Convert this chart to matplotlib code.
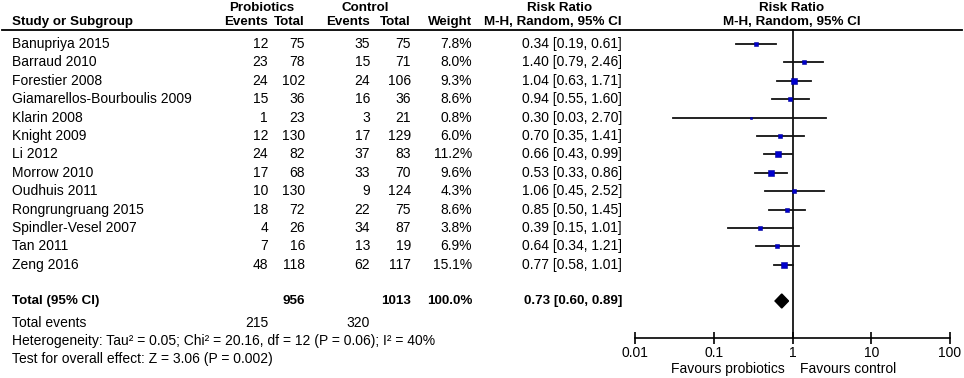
import numpy as np
import matplotlib
matplotlib.use("Agg")
import matplotlib.pyplot as plt

plt.rcParams['font.family'] = ['Liberation Sans', 'DejaVu Sans']

# data
studies = ["Banupriya 2015", "Barraud 2010", "Forestier 2008", "Giamarellos-Bourboulis 2009",
           "Klarin 2008", "Knight 2009", "Li 2012", "Morrow 2010", "Oudhuis 2011",
           "Rongrungruang 2015", "Spindler-Vesel 2007", "Tan 2011", "Zeng 2016"]
pro_events = [12, 23, 24, 15, 1, 12, 24, 17, 10, 18, 4, 7, 48]
pro_total = [75, 78, 102, 36, 23, 130, 82, 68, 130, 72, 26, 16, 118]
ctl_events = [35, 15, 24, 16, 3, 17, 37, 33, 9, 22, 34, 13, 62]
ctl_total = [75, 71, 106, 36, 21, 129, 83, 70, 124, 75, 87, 19, 117]
weight = [7.8, 8.0, 9.3, 8.6, 0.8, 6.0, 11.2, 9.6, 4.3, 8.6, 3.8, 6.9, 15.1]
rr = [0.34, 1.40, 1.04, 0.94, 0.30, 0.70, 0.66, 0.53, 1.06, 0.85, 0.39, 0.64, 0.77]
rr_lo = [0.19, 0.79, 0.63, 0.55, 0.03, 0.35, 0.43, 0.33, 0.45, 0.50, 0.15, 0.34, 0.58]
rr_hi = [0.61, 2.46, 1.71, 1.60, 2.70, 1.41, 0.99, 0.86, 2.52, 1.45, 1.01, 1.21, 1.01]

total_pro, total_ctl = 956, 1013
events_pro, events_ctl = 215, 320
pooled, pooled_lo, pooled_hi = 0.73, 0.60, 0.89
axis_ticks = [0.01, 0.1, 1, 10, 100]
axis_ticklabels = ["0.01", "0.1", "1", "10", "100"]

W, H = 964, 378
fig = plt.figure(figsize=(W / 100, H / 100), dpi=100)
ax = fig.add_axes([0, 0, 1, 1])
ax.set_xlim(0, W)
ax.set_ylim(H, 0)
ax.axis('off')

fs = 10
fsb = 9.6
bold = dict(fontsize=fsb, fontweight='bold', va='center')
norm = dict(fontsize=fs, va='center')

# column right edges (pixels)
c_pe, c_pt, c_ce, c_ct, c_w, c_rr = 268, 305, 370, 411, 472, 622

# headers
h1, h2 = 8, 22
ax.text(262, h1, "Probiotics", ha='center', **bold)
ax.text(365, h1, "Control", ha='center', **bold)
ax.text(560, h1, "Risk Ratio", ha='center', **bold)
ax.text(792, h1, "Risk Ratio", ha='center', **bold)
ax.text(12, h2, "Study or Subgroup", ha='left', **bold)
ax.text(c_pe, h2, "Events", ha='right', **bold)
ax.text(c_pt, h2, "Total", ha='right', **bold)
ax.text(c_ce, h2, "Events", ha='right', **bold)
ax.text(c_ct, h2, "Total", ha='right', **bold)
ax.text(c_w, h2, "Weight", ha='right', **bold)
ax.text(c_rr, h2, "M-H, Random, 95% CI", ha='right', **bold)
ax.text(792, h2, "M-H, Random, 95% CI", ha='center', **bold)
ax.plot([2, 962], [30, 30], color='black', lw=1.3)

row0, pitch = 44, 18.4
ys = [row0 + i * pitch for i in range(len(studies))]
for i, y in enumerate(ys):
    ax.text(12, y, studies[i], ha='left', **norm)
    ax.text(c_pe, y, str(pro_events[i]), ha='right', **norm)
    ax.text(c_pt, y, str(pro_total[i]), ha='right', **norm)
    ax.text(c_ce, y, str(ctl_events[i]), ha='right', **norm)
    ax.text(c_ct, y, str(ctl_total[i]), ha='right', **norm)
    ax.text(c_w, y, f"{weight[i]:.1f}%", ha='right', **norm)
    ax.text(c_rr, y, f"{rr[i]:.2f} [{rr_lo[i]:.2f}, {rr_hi[i]:.2f}]", ha='right', **norm)

ty = 301
ax.text(12, ty, "Total (95% CI)", ha='left', **bold)
ax.text(c_pt, ty, str(total_pro), ha='right', **bold)
ax.text(c_ct, ty, str(total_ctl), ha='right', **bold)
ax.text(c_w, ty, "100.0%", ha='right', **bold)
ax.text(c_rr, ty, f"{pooled:.2f} [{pooled_lo:.2f}, {pooled_hi:.2f}]", ha='right', **bold)
ax.text(12, 323, "Total events", ha='left', **norm)
ax.text(c_pe, 323, str(events_pro), ha='right', **norm)
ax.text(c_ce, 323, str(events_ctl), ha='right', **norm)
ax.text(12, 341, "Heterogeneity: Tau² = 0.05; Chi² = 20.16, df = 12 (P = 0.06); I² = 40%", ha='left', **norm)
ax.text(12, 359, "Test for overall effect: Z = 3.06 (P = 0.002)", ha='left', **norm)

# forest panel
fax = fig.add_axes([635 / W, 0, 315 / W, 1])
fax.set_xscale('log')
fax.set_xlim(0.01, 100)
fax.set_ylim(H, 0)
fax.patch.set_visible(False)
for s in ['top', 'left', 'right']:
    fax.spines[s].set_visible(False)
fax.spines['bottom'].set_position(('data', 338))
fax.spines['bottom'].set_linewidth(1.2)
fax.set_yticks([])
fax.set_xticks(axis_ticks)
fax.set_xticklabels(axis_ticklabels, fontsize=fs)
fax.xaxis.set_minor_locator(matplotlib.ticker.NullLocator())
fax.tick_params(axis='x', direction='inout', length=8, width=1.2, pad=2)

fax.plot([1, 1], [30, 338], color='black', lw=1.2)
for i, y in enumerate(ys):
    fax.plot([rr_lo[i], rr_hi[i]], [y, y], color='#111111', lw=1.3, clip_on=False)
    side = 1.7 * np.sqrt(weight[i]) / 1.389
    fax.plot(rr[i], y, marker='s', ms=max(side, 1.8), color='#0000cc',
             mec='#000099', mew=0.4, clip_on=False)

fax.fill([pooled_lo, pooled, pooled_hi, pooled], [ty, ty - 7, ty, ty + 7], color='black')

ax.text(785, 369, "Favours probiotics", ha='right', **norm)
ax.text(800, 369, "Favours control", ha='left', **norm)

fig.savefig("out.png", dpi=100)
